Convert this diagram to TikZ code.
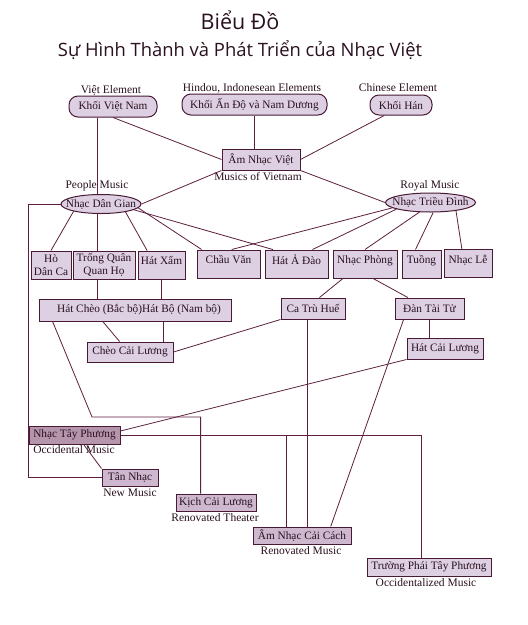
\documentclass[tikz,border=0pt]{standalone}
\usepackage{fontspec}
\setmainfont{Liberation Serif}
\newfontfamily\titlefont{Open Sans}
\usetikzlibrary{shapes.geometric,calc}
\definecolor{lnc}{HTML}{5E1F3F}
\definecolor{bdc}{HTML}{4A1A35}
\definecolor{fillc}{HTML}{DDD0E2}
\definecolor{darkfill}{HTML}{B595AB}
\definecolor{midfill}{HTML}{CDB8CF}
\definecolor{txtc}{HTML}{2A1020}
\tikzset{
  conn/.style={draw=lnc, line width=0.8pt},
  basebox/.style={draw=bdc, line width=1pt, fill=fillc, inner sep=1pt, text=txtc,
     font=\fontsize{11.3}{12.5}\selectfont},
  rowbox/.style={basebox, minimum height=28pt, text depth=9pt},
  flatbox/.style={basebox},
  roundbox/.style={basebox, rounded corners=9pt},
  ovalbox/.style={basebox, ellipse, inner xsep=-9pt, inner ysep=0pt},
  caption/.style={text=txtc, inner sep=0pt, font=\fontsize{11.5}{12.5}\selectfont},
}
\begin{document}
\begin{tikzpicture}[x=1pt,y=-1pt]
\useasboundingbox (0,0) rectangle (528,625);
\fill[white] (0,0) rectangle (528,625);

% titles
\node[text=txtc, font=\titlefont\fontsize{21.5}{24}\selectfont] (title) at (240,20) {Biểu Đồ};
\node[text=txtc, font=\titlefont\fontsize{18.4}{22}\selectfont] (subtitle) at (240,50) {Sự Hình Thành và Phát Triển của Nhạc Việt};

% top level
\node[roundbox, minimum width=88pt, minimum height=21pt] (khoivietnam) at (113,106.5) {Khối Việt Nam};
\node[roundbox, minimum width=145pt, minimum height=21pt] (khoiando) at (254.5,104.5) {Khối Ấn Độ và Nam Dương};
\node[roundbox, minimum width=62pt, minimum height=20pt] (khoihan) at (401,105) {Khối Hán};
\node[caption] (lviet) at (111,90) {Việt Element};
\node[caption] (lhindou) at (252,88) {Hindou, Indonesean Elements};
\node[caption] (lchinese) at (398,88) {Chinese Element};

\node[flatbox, minimum width=78pt, minimum height=21pt] (amnhacviet) at (261,159.5) {Âm Nhạc Việt};
\node[caption] (lmusics) at (258,177) {Musics of Vietnam};

\node[ovalbox, minimum width=80pt, minimum height=19pt] (nhacdangian) at (101,204) {Nhạc Dân Gian};
\node[ovalbox, minimum width=90pt, minimum height=19pt] (nhactrieudinh) at (430.5,202.5) {Nhạc Triều Đình};
\node[caption] (lpeople) at (97,186) {People Music};
\node[caption] (lroyal) at (430,186) {Royal Music};

% row 2
\node[basebox, minimum width=40pt, minimum height=28pt, align=center, font=\fontsize{11.3}{12.5}\selectfont] (hodanca) at (51,265) {Hò\\Dân Ca};
\node[basebox, minimum width=62pt, minimum height=28pt, align=center, font=\fontsize{11.3}{12.5}\selectfont] (trongquan) at (104,265) {Trống Quân\\Quan Họ};
\node[rowbox, minimum width=47pt] (hatxam) at (161.5,265) {Hát Xẩm};
\node[rowbox, minimum width=63pt] (chauvan) at (228.5,264) {Chầu Văn};
\node[rowbox, minimum width=63pt] (hatadao) at (296.5,264) {Hát Ả Đào};
\node[rowbox, minimum width=64pt] (nhacphong) at (365,264) {Nhạc Phòng};
\node[rowbox, minimum width=39pt] (tuong) at (421.5,264) {Tuồng};
\node[rowbox, minimum width=48pt] (nhacle) at (468,263.5) {Nhạc Lễ};

% row 3
\node[flatbox, minimum width=192pt, minimum height=22pt] (hatcheo) at (135,310) {\hspace{8pt}Hát Chèo (Bắc bộ)Hát Bộ (Nam bộ)};
\node[flatbox, minimum width=64pt, minimum height=21pt] (catruhue) at (313,308.5) {Ca Trù Huế};
\node[flatbox, minimum width=69pt, minimum height=21pt] (dantaitu) at (429.5,308.5) {Đàn Tài Tử};
\node[flatbox, minimum width=86pt, minimum height=20pt] (cheocailuong) at (130,352) {Chèo Cải Lương};
\node[flatbox, minimum width=76pt, minimum height=21pt] (hatcailuong) at (445,348.5) {Hát Cải Lương};

% lower
\node[flatbox, fill=darkfill, minimum width=91pt, minimum height=18pt] (nhactayphuong) at (74.5,435) {Nhạc Tây Phương};
\node[caption] (loccidental) at (74,450) {Occidental Music};
\node[flatbox, fill=midfill, minimum width=56pt, minimum height=17pt] (tannhac) at (130,477.5) {Tân Nhạc};
\node[caption] (lnew) at (130,493) {New Music};
\node[flatbox, fill=midfill, minimum width=80pt, minimum height=17pt] (kichcailuong) at (216,502.5) {Kịch Cải Lương};
\node[caption] (ltheater) at (215,518) {Renovated Theater};
\node[flatbox, fill=midfill, minimum width=98pt, minimum height=17pt] (amnhaccaicach) at (302,535.5) {Âm Nhạc Cải Cách};
\node[caption] (lrenmusic) at (301,551) {Renovated Music};
\node[flatbox, minimum width=124pt, minimum height=18pt] (truongphai) at (429,567) {Trường Phái Tây Phương};
\node[caption] (loccidentalized) at (426,583) {Occidentalized Music};

% helper coordinates
\coordinate (kv1) at ($(khoivietnam.south)+(-16,0)$);
\coordinate (leftx) at (28,0);
\coordinate (hx1) at ($(hatxam.north west)!0.2!(hatxam.north east)$);
\coordinate (cv1) at ($(chauvan.north west)!0.08!(chauvan.north east)$);
\coordinate (ha1) at ($(hatadao.north west)!0.13!(hatadao.north east)$);
\coordinate (ha2) at ($(hatadao.north west)!0.75!(hatadao.north east)$);
\coordinate (cv2) at ($(chauvan.north west)!0.55!(chauvan.north east)$);
\coordinate (tu1) at ($(tuong.north west)!0.35!(tuong.north east)$);
\coordinate (nl1) at ($(nhacle.north west)!0.375!(nhacle.north east)$);
\coordinate (hc1) at ($(hatcheo.south west)!0.333!(hatcheo.south east)$);
\coordinate (hc2) at ($(hatcheo.south west)!0.645!(hatcheo.south east)$);
\coordinate (hc3) at ($(hatcheo.south west)!0.073!(hatcheo.south east)$);
\coordinate (cc1) at ($(cheocailuong.north west)!0.38!(cheocailuong.north east)$);
\coordinate (np1) at ($(nhacphong.south west)!0.16!(nhacphong.south east)$);
\coordinate (np2) at ($(nhacphong.south west)!0.625!(nhacphong.south east)$);
\coordinate (ct1) at ($(catruhue.north west)!0.6!(catruhue.north east)$);
\coordinate (ct2) at ($(catruhue.south west)!0.42!(catruhue.south east)$);
\coordinate (dt1) at ($(dantaitu.north west)!0.19!(dantaitu.north east)$);
\coordinate (dt2) at ($(dantaitu.south west)!0.13!(dantaitu.south east)$);
\coordinate (k1) at ($(kichcailuong.north west)!0.31!(kichcailuong.north east)$);
\coordinate (bend1) at (92,417);
\coordinate (t1) at ($(truongphai.north west)!0.44!(truongphai.north east)$);
\coordinate (a1) at ($(amnhaccaicach.north west)!0.34!(amnhaccaicach.north east)$);
\coordinate (a2) at ($(amnhaccaicach.north west)!0.79!(amnhaccaicach.north east)$);
\coordinate (nt1) at ($(nhactayphuong.south west)!0.6!(nhactayphuong.south east)$);

% connectors
\draw[conn] (khoivietnam.south) -- (amnhacviet.west);
\draw[conn] (khoiando.south) -- (khoiando.south |- amnhacviet.north);
\draw[conn] (khoihan.212) -- (amnhacviet.east);
\draw[conn] (kv1) -- (kv1 |- nhacdangian.north);
\draw[conn] (amnhacviet.south west) -- (nhacdangian.east);
\draw[conn] (amnhacviet.south east) -- (nhactrieudinh.west);
\draw[conn] (nhacdangian.west) -| (leftx |- tannhac.west) -- (tannhac.west);
\draw[conn] (nhacdangian.195) -- (hodanca.north);
\draw[conn] (kv1 |- nhacdangian.south) -- (kv1 |- trongquan.north);
\draw[conn] (nhacdangian.342) -- (hx1);
\draw[conn] (nhacdangian.354) -- (cv1);
\draw[conn] (nhacdangian.350) -- (ha1);
\draw[conn] (nhactrieudinh.188) -- (cv2);
\draw[conn] (nhactrieudinh.191) -- (ha2);
\draw[conn] (nhactrieudinh.221) -- (nhacphong.north);
\draw[conn] (nhactrieudinh.285) -- (tu1);
\draw[conn] (nhactrieudinh.342) -- (nl1);
\draw[conn] (kv1 |- trongquan.south) -- (kv1 |- hatcheo.north);
\draw[conn] (hatxam.south) -- (hatxam.south |- hatcheo.north);
\draw[conn] (hc1) -- (cc1);
\draw[conn] (hc2) -- (hc2 |- cheocailuong.north);
\draw[conn] (catruhue.south west) -- (cheocailuong.east);
\draw[conn] (np1) -- (ct1);
\draw[conn] (np2) -- (dt1);
\draw[conn] (dantaitu.south) -- (dantaitu.south |- hatcailuong.north);
\draw[conn] (hatcailuong.south west) -- (nhactayphuong.5);
\draw[conn] (hc3) -- (bend1) -- (bend1 -| k1) -- (k1);
\draw[conn] (nhactayphuong.east) -- (nhactayphuong.east -| t1) -- (t1);
\draw[conn] (nhactayphuong.east -| a1) -- (a1);
\draw[conn] (ct2) -- (ct2 |- amnhaccaicach.north);
\draw[conn] (dt2) -- (a2);
\draw[conn] (nt1) -- (tannhac.north west);
\end{tikzpicture}
\end{document}
